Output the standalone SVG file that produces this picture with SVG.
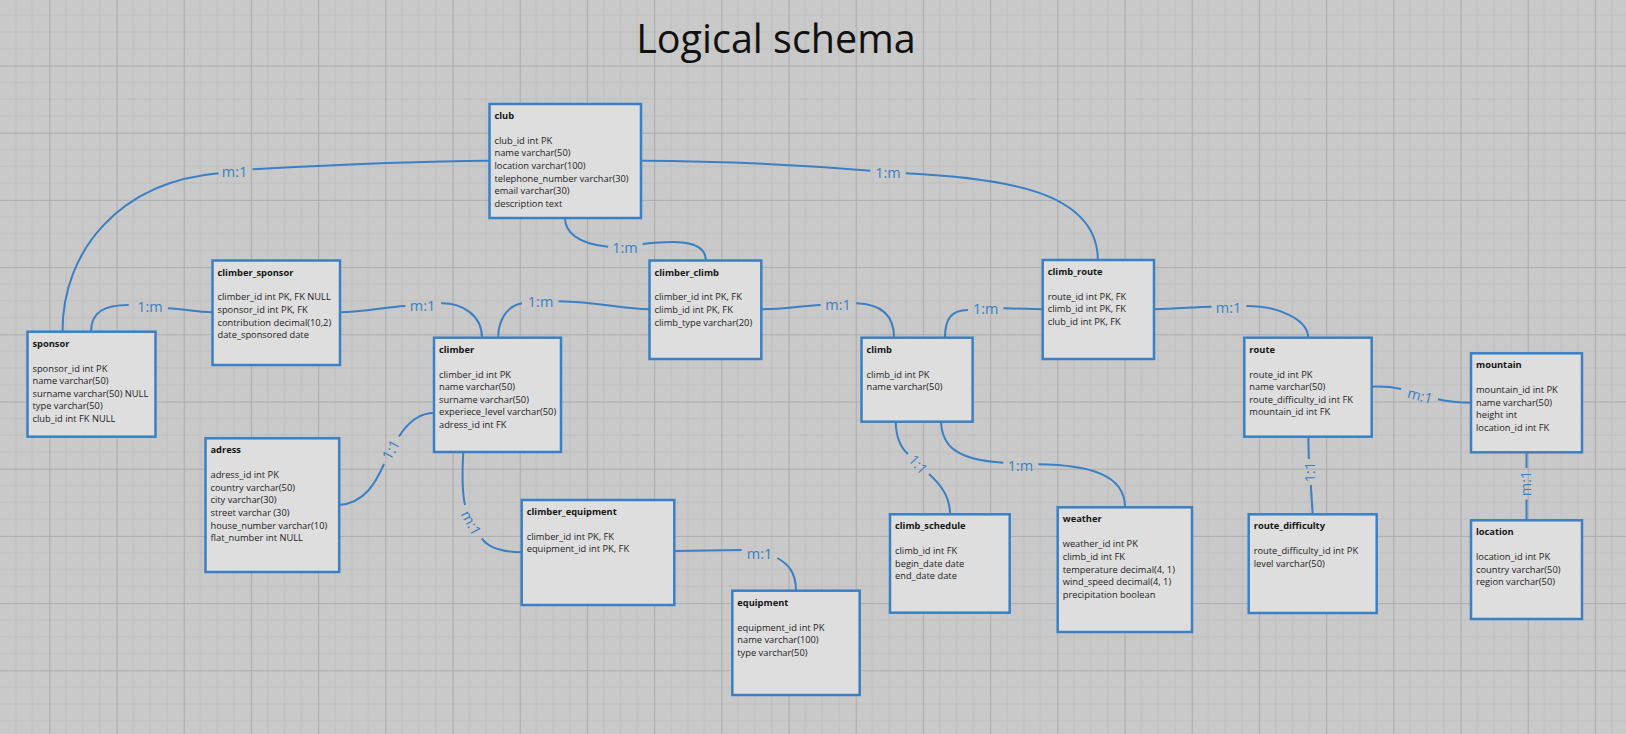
<svg xmlns="http://www.w3.org/2000/svg" width="1626" height="734" viewBox="0 0 1626 734">
<style>
.box{fill:#dedede;stroke:#3b7fc4;stroke-width:2.5}
.t{font-family:"Open Sans","Liberation Sans",sans-serif;font-size:9.3px;font-weight:bold;fill:#151515}
.f{font-family:"Open Sans","Liberation Sans",sans-serif;font-size:9.3px;fill:#222}
.c{fill:none;stroke:#3b80c4;stroke-width:2}
.lbl{font-family:"Open Sans","Liberation Sans",sans-serif;font-size:14.5px;fill:#3b80c4;text-anchor:middle}
.title{font-family:"Open Sans","Liberation Sans",sans-serif;font-size:39.5px;fill:#111;text-anchor:middle}
.mn{stroke:#bdbdbd;stroke-width:1}
.mj{stroke:#acacac;stroke-width:1.2}
</style>
<defs>
<pattern id="grid" patternUnits="userSpaceOnUse" x="49.3" y="65.5" width="67.2" height="67.2">
<line class="mn" x1="16.8" y1="0" x2="16.8" y2="67.2"/>
<line class="mn" x1="33.6" y1="0" x2="33.6" y2="67.2"/>
<line class="mn" x1="50.4" y1="0" x2="50.4" y2="67.2"/>
<line class="mn" x1="0" y1="16.8" x2="67.2" y2="16.8"/>
<line class="mn" x1="0" y1="33.6" x2="67.2" y2="33.6"/>
<line class="mn" x1="0" y1="50.4" x2="67.2" y2="50.4"/>
<line class="mj" x1="0.5" y1="0" x2="0.5" y2="67.2"/>
<line class="mj" x1="0" y1="0.5" x2="67.2" y2="0.5"/>
</pattern>
</defs>
<rect width="1626" height="734" fill="#c9c9c9"/>
<rect width="1626" height="734" fill="url(#grid)"/>
<text class="title" x="776" y="53.3">Logical schema</text>

<g id="connectors">
<path class="c" d="M62.5,331.7 C62.5,250 120,182 218.6,173.3"/>
<path class="c" d="M252.5,169.3 C330,165 420,161 489.5,160.7"/>
<text class="lbl" x="234.6" y="177.3">m:1</text>

<path class="c" d="M91,331.7 C91,312 104,305 128.6,305"/>
<path class="c" d="M167.9,308.3 C185,309 195,312 212.5,312.3"/>
<text class="lbl" x="150" y="311.7">1:m</text>

<path class="c" d="M340,312.3 C365,312 385,307 405.4,306"/>
<path class="c" d="M441,303.3 C462,303 482,315 482,337.7"/>
<text class="lbl" x="422.5" y="310.7">m:1</text>

<path class="c" d="M498.2,337.7 C498,322 506,306 522,303.3"/>
<path class="c" d="M558.5,301.3 C600,302 620,309 649.5,309.3"/>
<text class="lbl" x="540.6" y="306.7">1:m</text>

<path class="c" d="M565,218 C565,232 578,244 608.2,246.7"/>
<path class="c" d="M642.6,244 C670,241 705.8,238 705.8,260.5"/>
<text class="lbl" x="625" y="252.7">1:m</text>

<path class="c" d="M761.3,309.3 C785,309 800,306 820.6,305"/>
<path class="c" d="M856.2,303.3 C880,304 894,315 894.1,337.7"/>
<text class="lbl" x="838" y="310">m:1</text>

<path class="c" d="M945,337.7 C945,318 952,310 968,310"/>
<path class="c" d="M1003.5,308.3 L1042.7,309.3"/>
<text class="lbl" x="985.7" y="314">1:m</text>

<path class="c" d="M641,160.7 C720,161 800,165 870.4,170.7"/>
<path class="c" d="M905.6,173.3 C1000,178 1097.8,190 1097.8,260"/>
<text class="lbl" x="888" y="178.3">1:m</text>

<path class="c" d="M1154,309.3 C1175,309 1195,307 1211.6,306.7"/>
<path class="c" d="M1246.3,306 C1280.4,306 1308.2,320.3 1308.2,337.7"/>
<text class="lbl" x="1228.5" y="312.7">m:1</text>

<path class="c" d="M1371.7,386.7 C1385,386 1392,387 1401.2,389"/>
<path class="c" d="M1437.9,399.3 C1450,402 1458,402.7 1471,402.7"/>
<text class="lbl" transform="translate(1420,396) rotate(15)" y="5">m:1</text>

<path class="c" d="M1308.3,436.7 L1308.8,459"/>
<path class="c" d="M1310.8,485 L1312.7,514.3"/>
<text class="lbl" transform="translate(1310,472) rotate(-90)" y="5">1:1</text>

<path class="c" d="M1526.5,452.3 L1526.5,468"/>
<path class="c" d="M1526.5,499.5 L1526.5,520.3"/>
<text class="lbl" transform="translate(1526,483.5) rotate(-90)" y="5">m:1</text>

<path class="c" d="M434.6,412.7 C420,413 408,422 399,436.5"/>
<path class="c" d="M384,464 C376,482 365,503 339.2,505"/>
<text class="lbl" transform="translate(391,450) rotate(-60)" y="5">1:1</text>

<path class="c" d="M463.3,452 C462,475 462,492 465,505"/>
<path class="c" d="M481.7,538.3 C488,547 500,552 521.7,552.3"/>
<text class="lbl" transform="translate(471,523) rotate(62)" y="5">m:1</text>

<path class="c" d="M674.3,551 L741.7,550"/>
<path class="c" d="M777.3,558 C788,564 796,572 796,590.7"/>
<text class="lbl" x="759.5" y="559.3">m:1</text>

<path class="c" d="M895.7,421.7 C896,437 900,447 908,454"/>
<path class="c" d="M929,474 C940,484 950,496 950,514.3"/>
<text class="lbl" transform="translate(918,464.5) rotate(48)" y="5">1:1</text>

<path class="c" d="M941,421.7 C942,445 955,460 1003.3,462.7"/>
<path class="c" d="M1038.3,464.3 C1090,465 1125,475 1125,507.3"/>
<text class="lbl" x="1020.5" y="470.7">1:m</text>
</g>

<g id="club">
<rect class="box" x="489.5" y="104" width="151.5" height="114"/>
<text class="t" x="494.5" y="119">club</text>
<text class="f" x="494.5" y="143.8"><tspan x="494.5" dy="0">club_id int PK</tspan><tspan x="494.5" dy="12.65">name varchar(50)</tspan><tspan x="494.5" dy="12.65">location varchar(100)</tspan><tspan x="494.5" dy="12.65">telephone_number varchar(30)</tspan><tspan x="494.5" dy="12.65">email varchar(30)</tspan><tspan x="494.5" dy="12.65">description text</tspan></text>
</g>

<g id="climber_sponsor">
<rect class="box" x="212.5" y="260.5" width="127.5" height="104.5"/>
<text class="t" x="217.5" y="275.5">climber_sponsor</text>
<text class="f" x="217.5" y="300.3"><tspan x="217.5" dy="0">climber_id int PK, FK NULL</tspan><tspan x="217.5" dy="12.65">sponsor_id int PK, FK</tspan><tspan x="217.5" dy="12.65">contribution decimal(10,2)</tspan><tspan x="217.5" dy="12.65">date_sponsored date</tspan></text>
</g>

<g id="sponsor">
<rect class="box" x="27.5" y="331.7" width="128" height="105"/>
<text class="t" x="32.5" y="346.7">sponsor</text>
<text class="f" x="32.5" y="371.5"><tspan x="32.5" dy="0">sponsor_id int PK</tspan><tspan x="32.5" dy="12.65">name varchar(50)</tspan><tspan x="32.5" dy="12.65">surname varchar(50) NULL</tspan><tspan x="32.5" dy="12.65">type varchar(50)</tspan><tspan x="32.5" dy="12.65">club_id int FK NULL</tspan></text>
</g>

<g id="climber">
<rect class="box" x="434" y="337.7" width="127" height="114.3"/>
<text class="t" x="439" y="352.7">climber</text>
<text class="f" x="439" y="377.5"><tspan x="439" dy="0">climber_id int PK</tspan><tspan x="439" dy="12.65">name varchar(50)</tspan><tspan x="439" dy="12.65">surname varchar(50)</tspan><tspan x="439" dy="12.65">experiece_level varchar(50)</tspan><tspan x="439" dy="12.65">adress_id int FK</tspan></text>
</g>

<g id="adress">
<rect class="box" x="205.5" y="438.3" width="133.7" height="133.7"/>
<text class="t" x="210.5" y="453.3">adress</text>
<text class="f" x="210.5" y="478.1"><tspan x="210.5" dy="0">adress_id int PK</tspan><tspan x="210.5" dy="12.65">country varchar(50)</tspan><tspan x="210.5" dy="12.65">city varchar(30)</tspan><tspan x="210.5" dy="12.65">street varchar (30)</tspan><tspan x="210.5" dy="12.65">house_number varchar(10)</tspan><tspan x="210.5" dy="12.65">flat_number int NULL</tspan></text>
</g>

<g id="climber_climb">
<rect class="box" x="649.5" y="260.5" width="111.8" height="98.5"/>
<text class="t" x="654.5" y="275.5">climber_climb</text>
<text class="f" x="654.5" y="300.3"><tspan x="654.5" dy="0">climber_id int PK, FK</tspan><tspan x="654.5" dy="12.65">climb_id int PK, FK</tspan><tspan x="654.5" dy="12.65">climb_type varchar(20)</tspan></text>
</g>

<g id="climb">
<rect class="box" x="861.5" y="337.7" width="111.1" height="84"/>
<text class="t" x="866.5" y="352.7">climb</text>
<text class="f" x="866.5" y="377.5"><tspan x="866.5" dy="0">climb_id int PK</tspan><tspan x="866.5" dy="12.65">name varchar(50)</tspan></text>
</g>

<g id="climb_route">
<rect class="box" x="1042.7" y="260" width="111.3" height="99"/>
<text class="t" x="1047.7" y="275">climb_route</text>
<text class="f" x="1047.7" y="299.8"><tspan x="1047.7" dy="0">route_id int PK, FK</tspan><tspan x="1047.7" dy="12.65">climb_id int PK, FK</tspan><tspan x="1047.7" dy="12.65">club_id int PK, FK</tspan></text>
</g>

<g id="route">
<rect class="box" x="1244.3" y="337.7" width="127.4" height="99"/>
<text class="t" x="1249.3" y="352.7">route</text>
<text class="f" x="1249.3" y="377.5"><tspan x="1249.3" dy="0">route_id int PK</tspan><tspan x="1249.3" dy="12.65">name varchar(50)</tspan><tspan x="1249.3" dy="12.65">route_difficulty_id int FK</tspan><tspan x="1249.3" dy="12.65">mountain_id int FK</tspan></text>
</g>

<g id="mountain">
<rect class="box" x="1471" y="353.3" width="111" height="99"/>
<text class="t" x="1476" y="368.3">mountain</text>
<text class="f" x="1476" y="393.1"><tspan x="1476" dy="0">mountain_id int PK</tspan><tspan x="1476" dy="12.65">name varchar(50)</tspan><tspan x="1476" dy="12.65">height int</tspan><tspan x="1476" dy="12.65">location_id int FK</tspan></text>
</g>

<g id="climber_equipment">
<rect class="box" x="521.7" y="500" width="152.6" height="105"/>
<text class="t" x="526.7" y="515">climber_equipment</text>
<text class="f" x="526.7" y="539.8"><tspan x="526.7" dy="0">climber_id int PK, FK</tspan><tspan x="526.7" dy="12.65">equipment_id int PK, FK</tspan></text>
</g>

<g id="equipment">
<rect class="box" x="732.3" y="590.7" width="127.4" height="104.3"/>
<text class="t" x="737.3" y="605.7">equipment</text>
<text class="f" x="737.3" y="630.5"><tspan x="737.3" dy="0">equipment_id int PK</tspan><tspan x="737.3" dy="12.65">name varchar(100)</tspan><tspan x="737.3" dy="12.65">type varchar(50)</tspan></text>
</g>

<g id="climb_schedule">
<rect class="box" x="890" y="514.3" width="119.7" height="98.4"/>
<text class="t" x="895" y="529.3">climb_schedule</text>
<text class="f" x="895" y="554.1"><tspan x="895" dy="0">climb_id int FK</tspan><tspan x="895" dy="12.65">begin_date date</tspan><tspan x="895" dy="12.65">end_date date</tspan></text>
</g>

<g id="weather">
<rect class="box" x="1057.7" y="507.3" width="134.3" height="124.7"/>
<text class="t" x="1062.7" y="522.3">weather</text>
<text class="f" x="1062.7" y="547.3"><tspan x="1062.7" dy="0">weather_id int PK</tspan><tspan x="1062.7" dy="12.65">climb_id int FK</tspan><tspan x="1062.7" dy="12.65">temperature decimal(4, 1)</tspan><tspan x="1062.7" dy="12.65">wind_speed decimal(4, 1)</tspan><tspan x="1062.7" dy="12.65">precipitation boolean</tspan></text>
</g>

<g id="route_difficulty">
<rect class="box" x="1248.7" y="514.3" width="128" height="98.7"/>
<text class="t" x="1253.7" y="529.3">route_difficulty</text>
<text class="f" x="1253.7" y="554.1"><tspan x="1253.7" dy="0">route_difficulty_id int PK</tspan><tspan x="1253.7" dy="12.65">level varchar(50)</tspan></text>
</g>

<g id="location">
<rect class="box" x="1471" y="520.3" width="111" height="98.7"/>
<text class="t" x="1476" y="535.3">location</text>
<text class="f" x="1476" y="560.1"><tspan x="1476" dy="0">location_id int PK</tspan><tspan x="1476" dy="12.65">country varchar(50)</tspan><tspan x="1476" dy="12.65">region varchar(50)</tspan></text>
</g>
</svg>
